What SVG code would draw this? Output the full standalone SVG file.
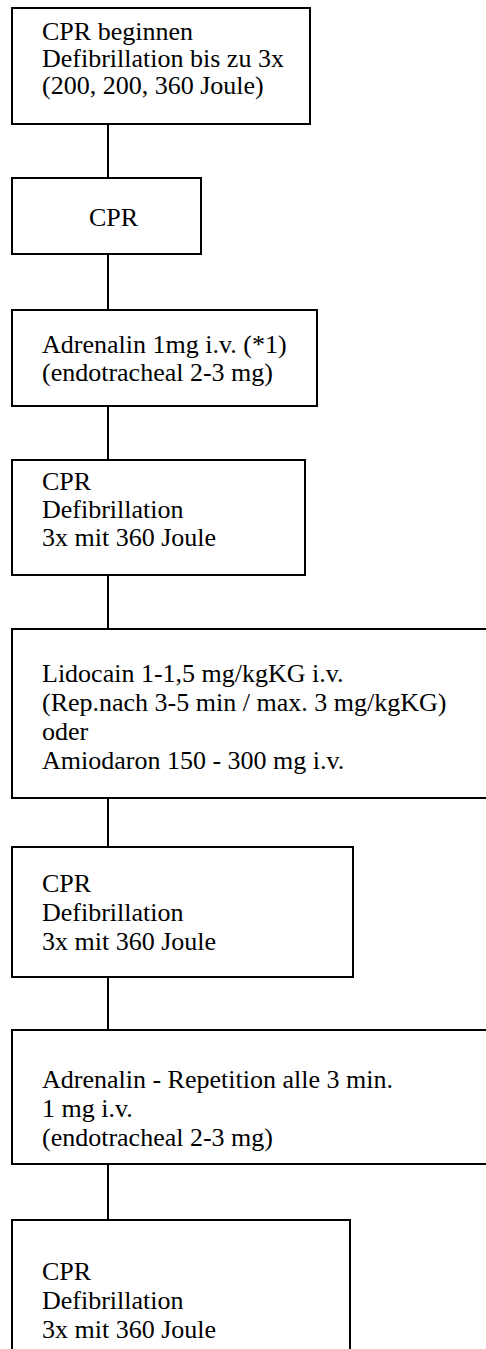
<svg xmlns="http://www.w3.org/2000/svg" width="486" height="1349" viewBox="0 0 486 1349">
<style>
.box{fill:#fff;stroke:#000;stroke-width:2}
.con{stroke:#000;stroke-width:2;fill:none}
text{font-family:"Liberation Serif","Times New Roman",serif;font-size:26px;fill:#000}
</style>
<rect width="486" height="1349" fill="#fff"/>
<g id="connectors">
<line class="con" x1="108" y1="124" x2="108" y2="178"/>
<line class="con" x1="108" y1="254" x2="108" y2="310"/>
<line class="con" x1="108" y1="406" x2="108" y2="460"/>
<line class="con" x1="108" y1="575" x2="108" y2="629"/>
<line class="con" x1="108" y1="798" x2="108" y2="847"/>
<line class="con" x1="108" y1="977" x2="108" y2="1030"/>
<line class="con" x1="108" y1="1164" x2="108" y2="1220"/>
</g>
<g id="n1"><rect class="box" x="12" y="8" width="298" height="116"/>
<text x="42" y="40">CPR beginnen</text><text x="42" y="67">Defibrillation bis zu 3x</text><text x="42" y="94">(200, 200, 360 Joule)</text></g>
<g id="n2"><rect class="box" x="12" y="178" width="189" height="76"/>
<text x="89" y="226">CPR</text></g>
<g id="n3"><rect class="box" x="12" y="310" width="305" height="96"/>
<text x="42" y="353">Adrenalin 1mg i.v. (*1)</text><text x="42" y="381">(endotracheal 2-3 mg)</text></g>
<g id="n4"><rect class="box" x="12" y="460" width="293" height="115"/>
<text x="42" y="490">CPR</text><text x="42" y="518">Defibrillation</text><text x="42" y="546">3x mit 360 Joule</text></g>
<g id="n5"><rect class="box" x="12" y="629" width="480" height="169"/>
<text x="42" y="682">Lidocain 1-1,5 mg/kgKG i.v.</text><text x="42" y="711">(Rep.nach 3-5 min / max. 3 mg/kgKG)</text><text x="42" y="740">oder</text><text x="42" y="769">Amiodaron 150 - 300 mg i.v.</text></g>
<g id="n6"><rect class="box" x="12" y="847" width="341" height="130"/>
<text x="42" y="892">CPR</text><text x="42" y="921">Defibrillation</text><text x="42" y="950">3x mit 360 Joule</text></g>
<g id="n7"><rect class="box" x="12" y="1030" width="480" height="134"/>
<text x="42" y="1088">Adrenalin - Repetition alle 3 min.</text><text x="42" y="1117">1 mg i.v.</text><text x="42" y="1146">(endotracheal 2-3 mg)</text></g>
<g id="n8"><rect class="box" x="12" y="1220" width="338" height="140"/>
<text x="42" y="1280">CPR</text><text x="42" y="1309">Defibrillation</text><text x="42" y="1338">3x mit 360 Joule</text></g>
</svg>
